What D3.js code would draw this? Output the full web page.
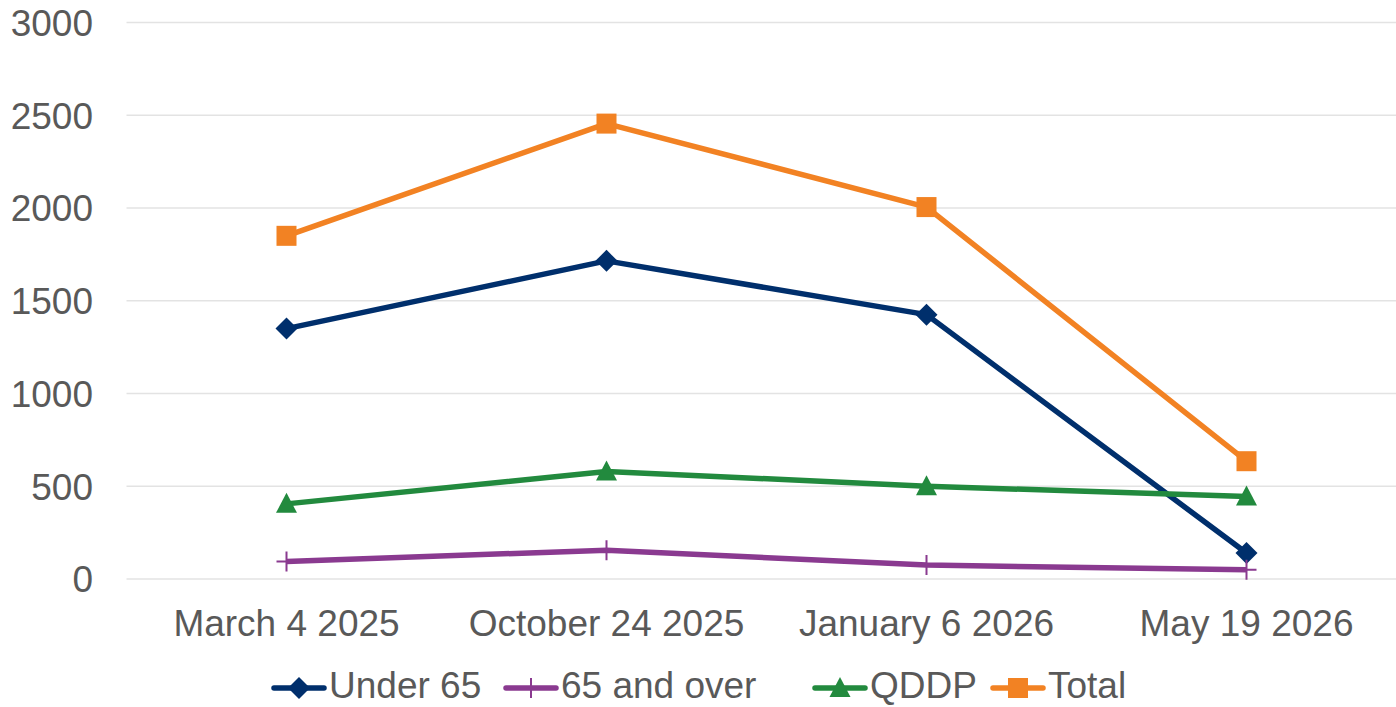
<!DOCTYPE html>
<html><head><meta charset="utf-8">
<script src="https://cdn.jsdelivr.net/npm/d3@7"></script>
<style>
html,body{margin:0;padding:0;background:#fff;}
svg{display:block;font-family:"Liberation Sans",Arial,sans-serif;}
</style></head>
<body>
<svg id="chart" width="1396" height="707"></svg>
<script>
const categories = ["March 4 2025", "October 24 2025", "January 6 2026", "May 19 2026"];
const under65 = [1350, 1715, 1425, 140];
const over65 = [95, 155, 75, 50];
const qddp = [405, 580, 500, 445];
const total = [1850, 2455, 2005, 635];
const yTicks = [0, 500, 1000, 1500, 2000, 2500, 3000];
const seriesNames = ["Under 65", "65 and over", "QDDP", "Total"];
const seriesColors = ["#002F6C", "#8A3A90", "#228A3E", "#F28223"];
const seriesMarkers = ["diamond", "plus", "triangle", "square"];

const series = [under65, over65, qddp, total].map((vals, i) => ({
  name: seriesNames[i], values: vals, color: seriesColors[i], marker: seriesMarkers[i]
}));

const svg = d3.select("#chart");
const W = 1396;
const FS = 37;
const x = d3.scaleBand().domain(categories).range([126.5, 1406.5]).padding(0);
const y = d3.scaleLinear().domain([0, 3000]).range([579, 22.5]);
const cx = c => x(c) + x.bandwidth() / 2;

// gridlines
svg.append("g").selectAll("line").data(yTicks).join("line")
  .attr("x1", 126.5).attr("x2", W)
  .attr("y1", d => y(d)).attr("y2", d => y(d))
  .attr("stroke", "#E3E3E3").attr("stroke-width", 1.5);

// y axis labels
const yAxis = d3.axisLeft(y).tickValues(yTicks).tickFormat(d3.format("d")).tickSize(0).tickPadding(0);
const gy = svg.append("g").attr("transform", "translate(93,0)").call(yAxis);
gy.select(".domain").remove();
gy.selectAll("text").attr("font-size", FS).attr("fill", "#595959")
  .attr("font-family", "'Liberation Sans', Arial, sans-serif").attr("dy", "0.35em");

// x axis labels
const xAxis = d3.axisBottom(x).tickSize(0).tickPadding(0);
const gx = svg.append("g").attr("transform", "translate(0,609)").call(xAxis);
gx.select(".domain").remove();
gx.selectAll("text").attr("font-size", FS).attr("fill", "#595959")
  .attr("font-family", "'Liberation Sans', Arial, sans-serif").attr("dy", "0.72em");

function drawMarker(g, type, color, px, py) {
  if (type === "diamond") {
    g.append("path").attr("d", `M${px},${py-11}L${px+11},${py}L${px},${py+11}L${px-11},${py}Z`).attr("fill", color);
  } else if (type === "square") {
    g.append("rect").attr("x", px-10).attr("y", py-10).attr("width", 20).attr("height", 20).attr("fill", color);
  } else if (type === "triangle") {
    g.append("path").attr("d", `M${px},${py-11}L${px+10.5},${py+9}L${px-10.5},${py+9}Z`).attr("fill", color);
  } else if (type === "plus") {
    g.append("path").attr("d", `M${px-10},${py}L${px+10},${py}M${px},${py-10}L${px},${py+10}`)
      .attr("stroke", color).attr("stroke-width", 2).attr("fill", "none");
  }
}

const line = d3.line().x((d, i) => cx(categories[i])).y(d => y(d));
series.forEach(s => {
  const g = svg.append("g");
  g.append("path").attr("d", line(s.values)).attr("fill", "none")
    .attr("stroke", s.color).attr("stroke-width", 5.5).attr("stroke-linejoin", "round");
  s.values.forEach((v, i) => drawMarker(g, s.marker, s.color, cx(categories[i]), y(v)));
});

// legend
const legendX = [274, 506, 815, 993];
const ly = 688;
series.forEach((s, i) => {
  const g = svg.append("g");
  const x0 = legendX[i];
  g.append("line").attr("x1", x0).attr("x2", x0 + 50).attr("y1", ly).attr("y2", ly)
    .attr("stroke", s.color).attr("stroke-width", 5.5).attr("stroke-linecap", "round");
  drawMarker(g, s.marker, s.color, x0 + 25, ly);
  g.append("text").attr("x", x0 + 55).attr("y", 698)
    .attr("font-size", FS).attr("fill", "#595959").text(s.name);
});
</script>
</body></html>
